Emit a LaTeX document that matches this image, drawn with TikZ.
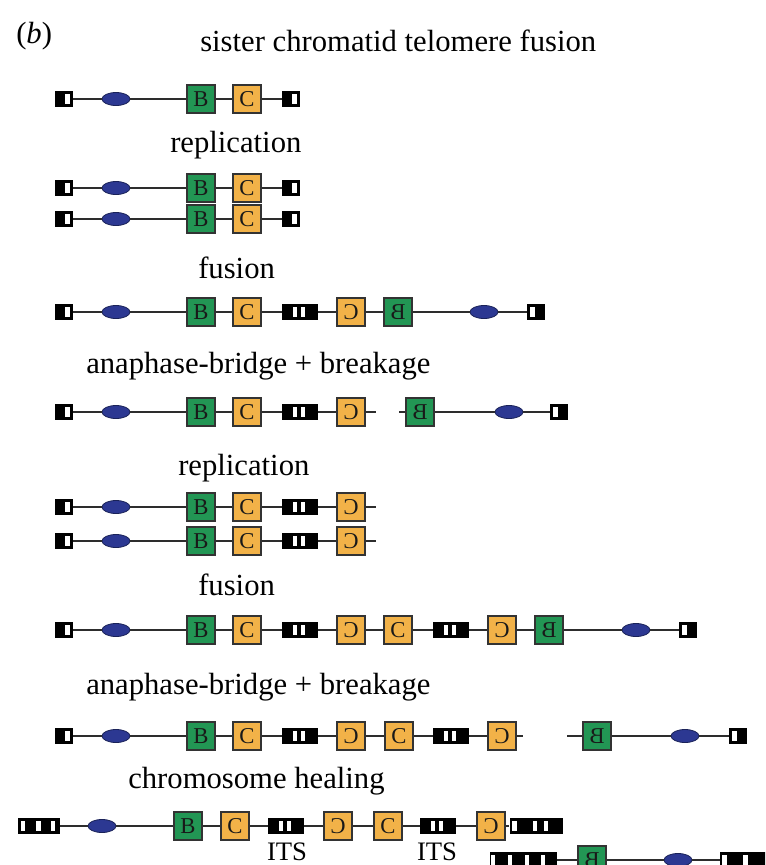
\documentclass[tikz,border=0pt]{standalone}
\usepackage{fontspec}
\setmainfont{Liberation Serif}
\usepackage{graphicx}
\usetikzlibrary{shapes.geometric}

\definecolor{geneGreen}{RGB}{34,150,84}
\definecolor{geneOrange}{RGB}{242,178,72}
\definecolor{cenBlue}{RGB}{44,56,146}
\definecolor{chromLine}{RGB}{45,45,45}

\tikzset{
  caption/.style={font=\fontsize{23pt}{27pt}\selectfont, inner sep=0pt, anchor=base west},
  itslabel/.style={font=\fontsize{20pt}{22pt}\selectfont, inner sep=0pt, anchor=base},
  gene/.style={draw=black!80, line width=1pt, minimum width=21pt, minimum height=21pt,
    inner sep=0pt, text=black!90, font=\fontsize{17pt}{17pt}\selectfont},
  geneB/.style={gene, fill=geneGreen},
  geneC/.style={gene, fill=geneOrange},
  centro/.style={ellipse, draw=cenBlue!60!black, line width=0.6pt, fill=cenBlue,
    minimum width=21pt, minimum height=9.75pt, inner sep=0pt},
  telobase/.style={rectangle, fill=black, inner sep=0pt, minimum height=12pt},
  % white slits inside a telomere block, given as from/to offsets (pt) from its left edge
  slits/.style={path picture={\foreach \a/\b in {#1}
      \fill[white] ([xshift=\a pt,yshift=1.9pt]path picture bounding box.south west)
        rectangle ([xshift=\b pt,yshift=-1.9pt]path picture bounding box.north west);}},
  telL/.style={telobase, minimum width=13.5pt, slits={7.5/11.25}},
  telR/.style={telobase, minimum width=13.5pt, slits={2.25/6}},
  its/.style={telobase, minimum width=27pt, slits={8.25/11.25,14.25/17.25}},
  healL/.style={telobase, minimum width=31.5pt, slits={2.25/5.6,13.5/16.9,24.75/28.1}},
  healR/.style={telobase, minimum width=39.75pt, slits={1.5/5.25,17.25/20.25,25.5/28.5}},
  longL/.style={telobase, minimum width=50.25pt, slits={1.1/3.75,13.5/16.5,26.25/29.25,38.25/41.25}},
  longR/.style={telobase, minimum width=37.5pt, slits={1.5/5.25,17.25/21}},
  chrom/.style={draw=chromLine, line width=1.1pt},
}

% left arm shared by most chromosomes: telomere, centromere, genes B and C
\newcommand{\chromarm}[2]{%
  \node[telL] (#1-t) at (64,#2) {};
  \node[centro] (#1-e) at (116,#2) {};
  \node[geneB] (#1-b) at (201,#2) {B};
  \node[geneC] (#1-c) at (247,#2) {C};
  \draw[chrom] (#1-t) -- (#1-e) -- (#1-b) -- (#1-c);}

\begin{document}
\begin{tikzpicture}[x=0.75pt,y=-0.75pt]
\useasboundingbox (0,0) rectangle (765,865);
\clip (0,0) rectangle (765,865);
\fill[white] (0,0) rectangle (765,865);

% headings and step captions
\node[caption] (panel) at (16,43) {(\textit{b})};
\node[caption] (title) at (200,51) {sister chromatid telomere fusion};
\node[caption] (cap1) at (170,152) {replication};
\node[caption] (cap2) at (198,278) {fusion};
\node[caption] (cap3) at (86,373) {anaphase-bridge + breakage};
\node[caption] (cap4) at (178,475) {replication};
\node[caption] (cap5) at (198,595) {fusion};
\node[caption] (cap6) at (86,694) {anaphase-bridge + breakage};
\node[caption] (cap7) at (128,788) {chromosome healing};

% original chromosome
\chromarm{r1}{99}
\node[telL] (r1-u) at (291,99) {};
\draw[chrom] (r1-c) -- (r1-u);

% sister chromatids
\chromarm{r2}{188}
\node[telL] (r2-u) at (291,188) {};
\draw[chrom] (r2-c) -- (r2-u);
\chromarm{r3}{219}
\node[telL] (r3-u) at (291,219) {};
\draw[chrom] (r3-c) -- (r3-u);

% dicentric after fusion
\chromarm{r4}{312}
\node[its] (r4-i) at (300,312) {};
\node[geneC] (r4-r) at (351,312) {\reflectbox{C}};
\node[geneB] (r4-q) at (398,312) {\reflectbox{B}};
\node[centro] (r4-f) at (484,312) {};
\node[telR] (r4-u) at (536,312) {};
\draw[chrom] (r4-c) -- (r4-i) -- (r4-r) -- (r4-q) -- (r4-f) -- (r4-u);

% broken products
\chromarm{r5}{412}
\node[its] (r5-i) at (300,412) {};
\node[geneC] (r5-r) at (351,412) {\reflectbox{C}};
\coordinate (r5-x) at (376,412);
\draw[chrom] (r5-c) -- (r5-i) -- (r5-r) -- (r5-x);
\coordinate (r5-y) at (399,412);
\node[geneB] (r5-q) at (420,412) {\reflectbox{B}};
\node[centro] (r5-f) at (509,412) {};
\node[telR] (r5-u) at (559,412) {};
\draw[chrom] (r5-y) -- (r5-q) -- (r5-f) -- (r5-u);

% replicated broken chromosome
\chromarm{r6}{507}
\node[its] (r6-i) at (300,507) {};
\node[geneC] (r6-r) at (351,507) {\reflectbox{C}};
\coordinate (r6-x) at (376,507);
\draw[chrom] (r6-c) -- (r6-i) -- (r6-r) -- (r6-x);
\chromarm{r7}{541}
\node[its] (r7-i) at (300,541) {};
\node[geneC] (r7-r) at (351,541) {\reflectbox{C}};
\coordinate (r7-x) at (376,541);
\draw[chrom] (r7-c) -- (r7-i) -- (r7-r) -- (r7-x);

% second fusion
\chromarm{r8}{630}
\node[its] (r8-i) at (300,630) {};
\node[geneC] (r8-r) at (351,630) {\reflectbox{C}};
\node[geneC] (r8-s) at (398,630) {C};
\node[its] (r8-j) at (451,630) {};
\node[geneC] (r8-p) at (502,630) {\reflectbox{C}};
\node[geneB] (r8-q) at (549,630) {\reflectbox{B}};
\node[centro] (r8-f) at (636,630) {};
\node[telR] (r8-u) at (688,630) {};
\draw[chrom] (r8-c) -- (r8-i) -- (r8-r) -- (r8-s) -- (r8-j) -- (r8-p) -- (r8-q) -- (r8-f) -- (r8-u);

% second breakage
\chromarm{r9}{736}
\node[its] (r9-i) at (300,736) {};
\node[geneC] (r9-r) at (351,736) {\reflectbox{C}};
\node[geneC] (r9-s) at (399,736) {C};
\node[its] (r9-j) at (451,736) {};
\node[geneC] (r9-p) at (502,736) {\reflectbox{C}};
\coordinate (r9-x) at (523,736);
\draw[chrom] (r9-c) -- (r9-i) -- (r9-r) -- (r9-s) -- (r9-j) -- (r9-p) -- (r9-x);
\coordinate (r9-y) at (567,736);
\node[geneB] (r9-q) at (597,736) {\reflectbox{B}};
\node[centro] (r9-f) at (685,736) {};
\node[telR] (r9-u) at (738,736) {};
\draw[chrom] (r9-y) -- (r9-q) -- (r9-f) -- (r9-u);

% healed chromosome with new telomere
\node[healL] (h-t) at (39,826) {};
\node[centro] (h-e) at (102,826) {};
\node[geneB] (h-b) at (188,826) {B};
\node[geneC] (h-c) at (235,826) {C};
\node[its] (h-i) at (286,826) {};
\node[geneC] (h-r) at (338,826) {\reflectbox{C}};
\node[geneC] (h-s) at (388,826) {C};
\node[its] (h-j) at (438,826) {};
\node[geneC] (h-p) at (491,826) {\reflectbox{C}};
\node[healR] (h-u) at (536,826) {};
\draw[chrom] (h-t) -- (h-e) -- (h-b) -- (h-c) -- (h-i) -- (h-r) -- (h-s) -- (h-j) -- (h-p) -- (h-u);
\node[itslabel] (its1) at (287,860) {ITS};
\node[itslabel] (its2) at (437,860) {ITS};

% healed fragment
\node[longL] (g-t) at (523,860) {};
\node[geneB] (g-q) at (592,860) {\reflectbox{B}};
\node[centro] (g-f) at (678,860) {};
\node[longR] (g-u) at (745,860) {};
\draw[chrom] (g-t) -- (g-q) -- (g-f) -- (g-u);
\end{tikzpicture}
\end{document}
